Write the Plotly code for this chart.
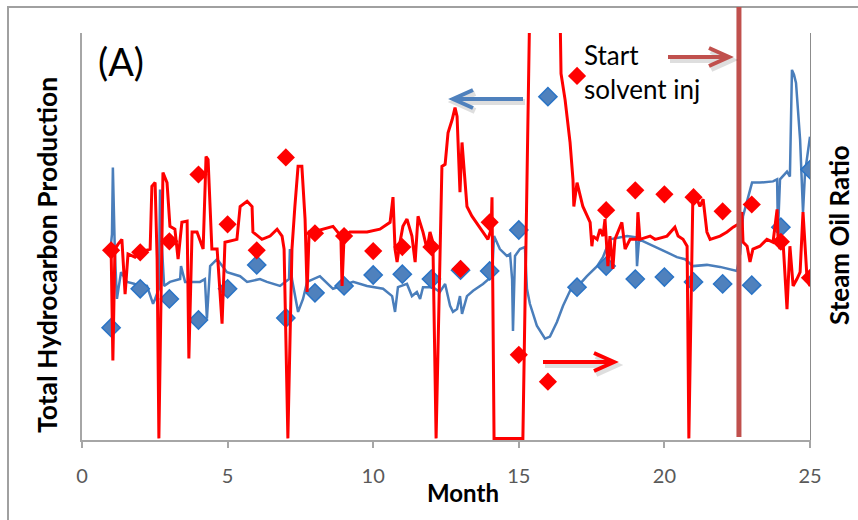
import plotly.graph_objects as go

# ---------------- data ----------------
months = list(range(1, 26))
monthly_production = [27.3, 36.9, 34.4, 29.2, 36.9, 42.8, 29.7, 35.9, 37.6, 40.3,
                      40.5, 39.3, 41.5, 41.3, 51.4, 84.3, 37.3, 42.5, 39.3, 39.8,
                      38.6, 38.1, 37.8, 52.1, 66.3]
monthly_sor = [4.64, 4.59, 4.86, 6.51, 5.28, 4.64, 6.93, 5.06, 4.99, 4.62,
               4.72, 4.72, 4.18, 5.33, 2.06, 1.40, 8.94, 5.63, 6.12, 6.02,
               5.95, 5.60, 5.77, 4.85, 3.96]

daily_prod_month = [0.96, 1.03, 1.06, 1.13, 1.20, 1.27, 1.34, 1.55, 1.82, 2.23,
                    2.44, 2.51, 2.64, 2.68, 2.75, 2.82, 3.02, 3.37, 3.40, 3.54,
                    4.05, 4.22, 4.29, 4.40, 4.64, 4.98, 5.43, 5.67, 6.11, 6.35,
                    6.80, 7.11, 7.14, 7.21, 7.42, 7.59, 7.73, 8.17, 8.62, 9.31,
                    9.79, 10.34, 10.65, 10.75, 10.85, 11.16, 11.33, 11.50, 11.61, 11.71,
                    12.05, 12.29, 12.47, 12.64, 12.74, 12.88, 12.98, 13.05, 13.22, 13.43,
                    13.77, 14.08, 14.15, 14.35, 14.59, 14.70, 14.77, 14.80, 14.87, 15.04,
                    15.21, 15.28, 15.38, 15.62, 15.90, 16.07, 16.31, 16.52, 16.76, 17.00,
                    17.34, 17.69, 17.89, 18.13, 18.72, 19.03, 19.06, 19.13, 19.61, 20.09,
                    20.43, 20.71, 20.98, 21.46, 21.91, 22.49, 22.60, 22.70, 23.01, 23.28,
                    23.73, 23.87, 23.90, 23.97, 24.21, 24.31, 24.38, 24.45, 24.52, 24.66,
                    24.76, 24.83, 25.00]
daily_production = [45.5, 50.4, 66.8, 45.5, 34.4, 38.1, 41.0, 38.6, 38.1, 37.6,
                    33.2, 34.4, 36.9, 61.4, 46.7, 37.6, 38.6, 39.3, 42.5, 38.6,
                    38.6, 39.3, 29.5, 42.5, 44.2, 41.0, 40.0, 38.6, 39.3, 38.6,
                    37.6, 39.3, 46.7, 39.3, 31.2, 34.4, 38.6, 40.0, 36.9, 38.6,
                    37.6, 36.9, 35.1, 31.2, 37.3, 38.1, 35.1, 36.1, 34.4, 37.3,
                    37.3, 36.1, 38.1, 32.7, 31.2, 31.9, 35.1, 30.7, 35.1, 36.4,
                    38.1, 40.0, 49.9, 46.7, 45.0, 45.5, 39.3, 26.5, 45.0, 46.7,
                    47.2, 36.9, 33.2, 27.8, 24.6, 25.1, 28.7, 32.7, 36.4, 37.3,
                    40.0, 42.5, 44.7, 49.1, 49.9, 49.6, 42.5, 49.1, 47.4, 45.9,
                    44.7, 44.2, 42.5, 42.8, 42.3, 41.3, 45.5, 54.8, 63.1, 63.1,
                    63.4, 63.9, 50.9, 63.9, 65.8, 64.6, 90.9, 89.7, 87.7, 73.7,
                    55.8, 65.6, 74.4]

daily_sor_month = [0.89, 1.00, 1.06, 1.13, 1.24, 1.37, 1.48, 1.58, 1.82, 1.99,
                   2.34, 2.40, 2.51, 2.58, 2.64, 2.71, 2.78, 2.92, 3.02, 3.19,
                   3.30, 3.43, 3.61, 3.67, 3.78, 3.95, 4.16, 4.26, 4.33, 4.46,
                   4.64, 4.81, 4.91, 5.32, 5.43, 5.67, 5.84, 5.87, 6.18, 6.46,
                   6.70, 6.87, 6.94, 7.07, 7.21, 7.31, 7.42, 7.55, 7.66, 7.73,
                   7.80, 7.93, 8.62, 8.89, 8.93, 9.00, 9.20, 9.79, 10.23, 10.58,
                   10.68, 10.75, 10.82, 10.92, 11.02, 11.16, 11.33, 11.44, 11.54, 11.71,
                   11.85, 11.95, 12.05, 12.16, 12.26, 12.36, 12.47, 12.57, 12.71, 12.81,
                   12.88, 12.98, 13.05, 13.22, 13.39, 13.60, 13.77, 13.94, 14.05, 14.08,
                   14.15, 15.14, 15.25, 15.45, 16.30, 16.45, 16.59, 16.76, 16.86, 16.89,
                   17.00, 17.20, 17.45, 17.51, 17.55, 17.69, 17.79, 17.89, 17.96, 18.06,
                   18.13, 18.23, 18.30, 18.54, 18.65, 18.82, 19.06, 19.09, 19.16, 19.51,
                   19.68, 20.09, 20.36, 20.47, 20.64, 20.78, 20.84, 20.95, 20.98, 21.12,
                   21.22, 21.33, 21.46, 21.57, 21.91, 22.15, 22.36, 22.53, 22.66, 22.70,
                   22.84, 22.94, 23.04, 23.28, 23.52, 23.73, 23.87, 23.90, 23.97, 24.07,
                   24.21, 24.31, 24.42, 24.55, 24.66, 24.76, 24.90, 25.00]
daily_sor = [4.67, 4.67, 1.92, 4.67, 4.79, 4.91, 3.56, 4.55, 4.47, 4.59,
             4.67, 6.22, 6.31, 4.42, 0.0, 3.44, 6.56, 6.31, 5.23, 5.16,
             4.42, 5.33, 5.36, 1.97, 5.09, 5.09, 4.67, 6.95, 6.88, 4.67,
             4.67, 2.83, 4.84, 4.91, 5.72, 5.85, 5.72, 5.09, 4.91, 4.99,
             5.16, 4.99, 4.67, 0.0, 4.67, 5.72, 6.71, 6.71, 5.41, 3.61,
             5.09, 5.09, 5.23, 4.99, 3.76, 4.99, 5.09, 5.09, 5.16, 5.33,
             5.95, 4.67, 4.35, 4.84, 5.23, 5.41, 4.99, 4.35, 5.48, 5.09,
             4.67, 5.09, 4.84, 0.0, 3.44, 6.71, 6.76, 7.54, 7.86, 8.16,
             7.94, 6.07, 7.30, 5.72, 5.48, 5.28, 5.09, 4.91, 5.16, 5.95,
             0.0, 0.0, 5.41, 14.0, 16.0, 9.0, 8.35, 7.30, 6.39, 5.72,
             6.31, 5.72, 5.33, 4.74, 4.99, 4.91, 5.16, 4.99, 5.41, 4.25,
             4.99, 4.18, 4.91, 5.33, 4.67, 4.91, 4.91, 5.58, 4.91, 4.99,
             4.91, 4.99, 5.21, 4.99, 4.91, 4.74, 0.0, 5.72, 6.07, 5.90,
             5.72, 5.90, 5.09, 4.91, 4.99, 5.09, 5.21, 5.28, 5.58, 4.84,
             4.74, 4.35, 4.67, 4.74, 4.91, 4.84, 5.65, 4.99, 4.67, 4.91,
             3.19, 4.74, 3.76, 3.93, 4.10, 5.58, 3.93, 3.76]

x_ticks = [0, 5, 10, 15, 20, 25]
solvent_start_month = 22.56

# ---------------- layout helpers ----------------
W, H = 858, 520
L, R, T, B = 82, 48, 33, 80
PW, PH = W - L - R, H - T - B
FONT = "Lato, 'Open Sans', sans-serif"


def pxx(px):
    return (px - L) / PW


def pxy(py):
    return (H - B - py) / PH


BLUE = "#4A7EBB"
RED = "#FF0000"
DARKRED = "#C0504D"

fig = go.Figure()
fig.add_trace(go.Scatter(x=daily_prod_month, y=daily_production, mode="lines",
                         line=dict(color=BLUE, width=2.5), yaxis="y", showlegend=False))
fig.add_trace(go.Scatter(x=months, y=monthly_production, mode="markers",
                         marker=dict(symbol="diamond", size=14, color="#4F81BD",
                                     line=dict(color="#2A74C6", width=1.5)),
                         yaxis="y", showlegend=False))
fig.add_trace(go.Scatter(x=daily_sor_month, y=daily_sor, mode="lines",
                         line=dict(color=RED, width=3), yaxis="y2", showlegend=False))
fig.add_trace(go.Scatter(x=months, y=monthly_sor, mode="markers",
                         marker=dict(symbol="diamond", size=14, color=RED,
                                     line=dict(width=0)),
                         yaxis="y2", showlegend=False))

shapes = []
# figure border (left + top visible)
shapes.append(dict(type="rect", xref="paper", yref="paper",
                   x0=pxx(8), x1=pxx(920), y0=pxy(600), y1=pxy(7),
                   line=dict(color="#A0A0A0", width=2), layer="below"))
# solvent-injection vertical line
sx = solvent_start_month / 25.0
shapes.append(dict(type="line", xref="paper", yref="paper",
                   x0=sx, x1=sx, y0=pxy(437), y1=pxy(7),
                   line=dict(color=DARKRED, width=5), layer="above"))


def arrow(x0, x1, y, color, head=20, half=9, width=4, shadow=True):
    d = 1 if x1 > x0 else -1
    out = []
    def path(dx, dy):
        return ("M {a},{b} L {c},{b} M {e},{f} L {c},{b} L {e},{g}".format(
            a=pxx(x0 + dx), b=pxy(y + dy), c=pxx(x1 + dx),
            e=pxx(x1 - d * head + dx), f=pxy(y - half + dy), g=pxy(y + half + dy)))
    if shadow:
        out.append(dict(type="path", xref="paper", yref="paper", path=path(2, 3),
                        line=dict(color="rgba(0,0,0,0.13)", width=width + 2), layer="above"))
    out.append(dict(type="path", xref="paper", yref="paper", path=path(0, 0),
                    line=dict(color=color, width=width), layer="above"))
    return out


shapes += arrow(523, 453, 99, "#4F81BD")
shapes += arrow(543, 614, 362, RED)
shapes += arrow(668, 729, 57, DARKRED)

annotations = [
    dict(text="(A)", xref="paper", yref="paper", x=pxx(121), y=pxy(61),
         xanchor="center", yanchor="middle",
         showarrow=False, font=dict(size=38, color="black", family=FONT)),
    dict(text="Start<br>solvent inj", xref="paper", yref="paper", x=pxx(582), y=pxy(37),
         xanchor="left", yanchor="top", align="left", showarrow=False,
         font=dict(size=26, color="black", family=FONT)),
    dict(text="Month", xref="paper", yref="paper", x=pxx(463), y=pxy(492),
         xanchor="center", yanchor="middle",
         showarrow=False, font=dict(size=24, color="black", family=FONT, weight="bold")),
    dict(text="Total Hydrocarbon Production", xref="paper", yref="paper",
         x=pxx(47), y=pxy(255), textangle=-90, xanchor="center", yanchor="middle",
         showarrow=False,
         font=dict(size=26.5, color="black", family=FONT, weight="bold")),
    dict(text="Steam Oil Ratio", xref="paper", yref="paper",
         x=pxx(857), y=pxy(235), textangle=-90, xanchor="right", yanchor="middle",
         showarrow=False,
         font=dict(size=26, color="black", family=FONT, weight="bold")),
]

fig.update_layout(
    width=W, height=H,
    margin=dict(l=L, r=R, t=T, b=B, pad=0),
    paper_bgcolor="white", plot_bgcolor="white",
    font=dict(family=FONT),
    xaxis=dict(range=[0, 25], tickvals=x_ticks, ticktext=[str(v) for v in x_ticks],
               ticks="outside", ticklen=6, tickwidth=1.5, tickcolor="#A6A6A6",
               showline=True, linecolor="#A6A6A6", linewidth=2,
               tickfont=dict(size=20, color="#595959", family=FONT),
               ticklabelstandoff=11, showgrid=False, zeroline=False),
    yaxis=dict(range=[-0.4, 100], showticklabels=False, ticks="", showline=True,
               linecolor="#A6A6A6", linewidth=2, showgrid=False, zeroline=False),
    yaxis2=dict(range=[-0.04, 10], overlaying="y", side="right", showticklabels=False,
                ticks="", showline=True, linecolor="#8C8C8C", linewidth=1,
                showgrid=False, zeroline=False),
    shapes=shapes,
    annotations=annotations,
)

fig.write_html("out.html")
